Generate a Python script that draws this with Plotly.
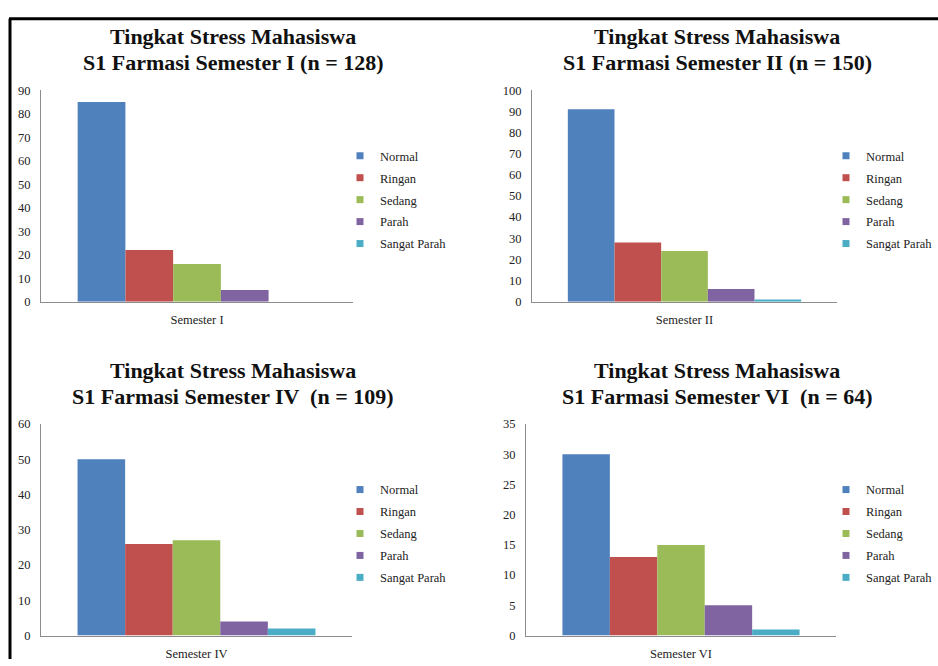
import plotly.graph_objects as go

W, H = 938, 666

levels = ["Normal", "Ringan", "Sedang", "Parah", "Sangat Parah"]
colors = ["#4F81BD", "#C0504D", "#9BBB59", "#8064A2", "#4BACC6"]

semesters = ["Semester I", "Semester II", "Semester IV", "Semester VI"]
title_line1 = ["Tingkat Stress Mahasiswa"] * 4
title_line2 = [
    "S1 Farmasi Semester I (n = 128)",
    "S1 Farmasi Semester II (n = 150)",
    "S1 Farmasi Semester IV  (n = 109)",
    "S1 Farmasi Semester VI  (n = 64)",
]
sem1_values = [85, 22, 16, 5, 0]
sem2_values = [91, 28, 24, 6, 1]
sem4_values = [50, 26, 27, 4, 2]
sem6_values = [30, 13, 15, 5, 1]
all_values = [sem1_values, sem2_values, sem4_values, sem6_values]

y_max = [90, 100, 60, 35]
y_step = [10, 10, 10, 5]

# layout geometry (pixels)
px_x = [(41, 353), (532, 837), (41, 352), (526, 836)]
px_y = [(85, 301), (85, 301), (426, 642), (426, 642)]
title_x = [233, 717, 233, 717]
title_y1 = [30, 30, 371, 371]
title_y2 = [57, 57, 398, 398]
legend_x = [340, 826, 340, 826]
legend_y = [137, 137, 478, 478]

FONT = "Liberation Serif"
SMALL = 12.5

fig = go.Figure()
layout = dict(
    width=W, height=H,
    margin=dict(l=0, r=0, t=0, b=0),
    paper_bgcolor="white", plot_bgcolor="white",
    barmode="group", bargap=0.235, bargroupgap=0,
    font=dict(family=FONT, size=SMALL, color="#222222"),
    annotations=[], shapes=[],
)

for i in range(4):
    xa = "x" if i == 0 else f"x{i+1}"
    ya = "y" if i == 0 else f"y{i+1}"
    lg = "legend" if i == 0 else f"legend{i+1}"
    for j, lev in enumerate(levels):
        fig.add_trace(go.Bar(
            x=[semesters[i]], y=[all_values[i][j]], name=lev,
            marker=dict(color=colors[j], line=dict(width=0)),
            xaxis=xa, yaxis=ya, showlegend=False, offsetgroup=str(j),
        ))
    for j, lev in enumerate(levels):
        fig.add_trace(go.Scatter(
            x=[None], y=[None], name=lev, mode="markers",
            marker=dict(symbol="square", size=7, color=colors[j]),
            xaxis=xa, yaxis=ya, legend=lg, legendgroup=f"{i}_{j}",
            showlegend=True,
        ))
    xd = [px_x[i][0] / W, px_x[i][1] / W]
    yd = [1 - px_y[i][1] / H, 1 - px_y[i][0] / H]
    xkey = "xaxis" if i == 0 else f"xaxis{i+1}"
    ykey = "yaxis" if i == 0 else f"yaxis{i+1}"
    layout[xkey] = dict(
        domain=xd, anchor=ya, type="category", categoryarray=[semesters[i]],
        showline=True, linecolor="#8C8C8C", linewidth=1, showgrid=False,
        ticks="", zeroline=False, fixedrange=True, ticklabelstandoff=6,
        tickfont=dict(family=FONT, size=SMALL, color="#222222"),
    )
    layout[ykey] = dict(
        domain=yd, anchor=xa, range=[0, y_max[i]], dtick=y_step[i], tick0=0,
        showline=True, linecolor="#8C8C8C", linewidth=1, showgrid=False,
        ticks="", zeroline=False, fixedrange=True, ticklabelstandoff=7,
        tickfont=dict(family=FONT, size=SMALL, color="#222222"),
    )
    layout[lg] = dict(
        x=legend_x[i] / W, y=1 - legend_y[i] / H, xanchor="left", yanchor="top",
        bgcolor="rgba(0,0,0,0)", borderwidth=0, itemwidth=30,
        tracegroupgap=2.7, font=dict(family=FONT, size=SMALL, color="#222222"),
        itemclick=False, itemdoubleclick=False,
    )
    for txt, ty in ((title_line1[i], title_y1[i]), (title_line2[i], title_y2[i])):
        layout["annotations"].append(dict(
            text="<b>" + txt + "</b>", x=title_x[i] / W, y=1 - ty / H,
            xref="paper", yref="paper", xanchor="center", yanchor="middle",
            showarrow=False, align="center",
            font=dict(family=FONT, size=22, color="#111111"),
        ))

# outer frame
layout["shapes"] += [
    dict(type="line", xref="paper", yref="paper", x0=9 / W, x1=1, y0=1 - 12 / H, y1=1 - 12 / H,
         line=dict(color="black", width=3)),
    dict(type="line", xref="paper", yref="paper", x0=10 / W, x1=10 / W, y0=0, y1=1 - 12 / H,
         line=dict(color="black", width=3)),
]

fig.update_layout(**layout)
fig.write_html("out.html")
